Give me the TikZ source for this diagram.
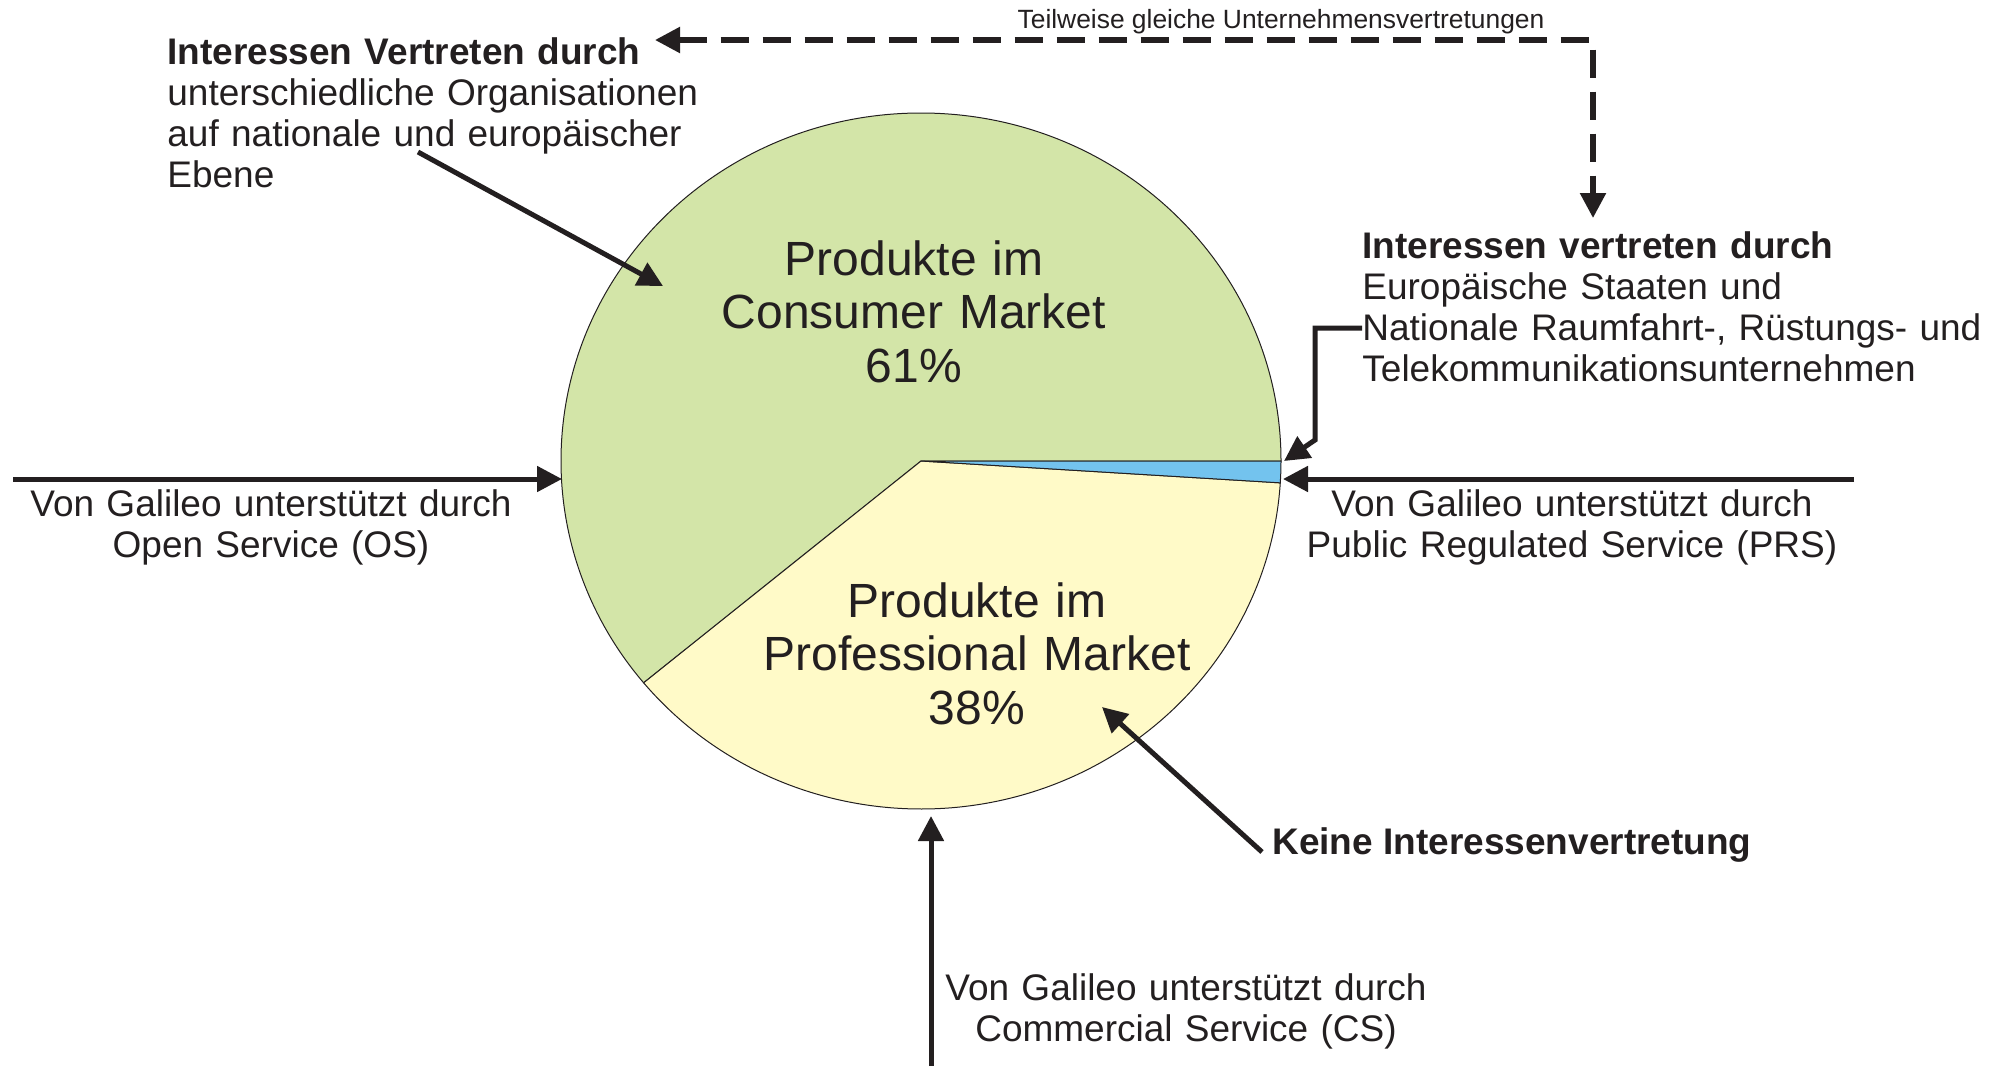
\documentclass[tikz,border=0pt]{standalone}
\usepackage{fontspec}
\setmainfont{Liberation Sans}
\usetikzlibrary{arrows.meta,calc}
\definecolor{ink}{HTML}{231F20}
\definecolor{cgreen}{RGB}{211,229,168}
\definecolor{cyellow}{RGB}{255,250,200}
\definecolor{cblue}{RGB}{115,195,238}
\begin{document}
\begin{tikzpicture}[x=0.5pt,y=-0.5pt,
  lbl/.style={inner sep=0pt, text=ink, font=\fontsize{18.5}{20.5}\selectfont},
  lblL/.style={lbl, text width=330pt, align=left, anchor=base west},
  lblC/.style={lbl, text width=300pt, align=center, anchor=base},
  big/.style={inner sep=0pt, text=ink, font=\fontsize{24}{26.75}\selectfont, text width=260pt, align=center, anchor=base},
  small/.style={inner sep=0pt, text=ink, font=\fontsize{13.2}{15}\selectfont, anchor=base},
  arr/.style={line width=2.5pt, draw=ink, -{Triangle[length=12.5pt,width=12.5pt]}},
  darr/.style={line width=2.7pt, draw=ink, dash pattern=on 14pt off 7pt,
     {Triangle[length=12.5pt,width=12.5pt]}-{Triangle[length=12.5pt,width=12.5pt]}},
  slice/.style={draw=ink, line width=0.5pt}
]
\useasboundingbox (0,0) rectangle (2002,1066);

% pie
\coordinate (c) at (921,461);
\filldraw[slice, fill=cgreen] (c) -- ++(0:180pt and 174pt)
  arc[start angle=0, end angle=219.6, x radius=180pt, y radius=174pt] -- cycle;
\filldraw[slice, fill=cyellow] (c) -- ++(219.6:180pt and 174pt)
  arc[start angle=219.6, end angle=356.4, x radius=180pt, y radius=174pt] -- cycle;
\filldraw[slice, fill=cblue] (c) -- ++(356.4:180pt and 174pt)
  arc[start angle=356.4, end angle=360, x radius=180pt, y radius=174pt] -- cycle;

% pie labels
\node[big] (cons) at (914,275) {Produkte im\\Consumer Market\\61\%};
\node[big] (prof) at (977,617) {Produkte im\\Professional Market\\38\%};

% text blocks
\node[lblL] (orgs) at (167,64) {\textbf{Interessen Vertreten durch}\\unterschiedliche Organisationen\\auf nationale und europäischer\\Ebene};
\node[lblL] (staat) at (1362,258) {\textbf{Interessen vertreten durch}\\Europäische Staaten und\\Nationale Raumfahrt-, Rüstungs- und\\Telekommunikationsunternehmen};
\node[small] (teil) at (1281,28) {Teilweise gleiche Unternehmensvertretungen};
\node[lblC] (os) at (271,516) {Von Galileo unterstützt durch\\Open Service (OS)};
\node[lblC] (prs) at (1572,516) {Von Galileo unterstützt durch\\Public Regulated Service (PRS)};
\node[lblC] (cs) at (1186,1000) {Von Galileo unterstützt durch\\Commercial Service (CS)};
\node[lbl, anchor=base west] (keine) at (1272,854) {\textbf{Keine Interessenvertretung}};

% connector coordinates
\coordinate (osS) at (13,479);   \coordinate (osT) at (562,479);
\coordinate (prsS) at (1854,479); \coordinate (prsT) at (1283,479);
\coordinate (csS) at (931,1066);  \coordinate (csT) at (931,816);
\coordinate (orgS) at (418,152);  \coordinate (orgT) at (663,286);
\coordinate (keiS) at (1262,852); \coordinate (keiT) at (1102,707);
\coordinate (staS) at (1362,328); \coordinate (staB1) at (1315,328);
\coordinate (staB2) at (1315,440); \coordinate (staT) at (1284,461);
\coordinate (dL) at (655,40); \coordinate (dC) at (1593,40); \coordinate (dB) at (1593,218);

\draw[arr] (osS) -- (osT);
\draw[arr] (prsS) -- (prsT);
\draw[arr] (csS) -- (csT);
\draw[arr] (orgS) -- (orgT);
\draw[arr] (keiS) -- (keiT);
\draw[arr] (staS) -- (staB1) -- (staB2) -- (staT);
\draw[darr] (dL) -- (dC) -- (dB);
\end{tikzpicture}
\end{document}
